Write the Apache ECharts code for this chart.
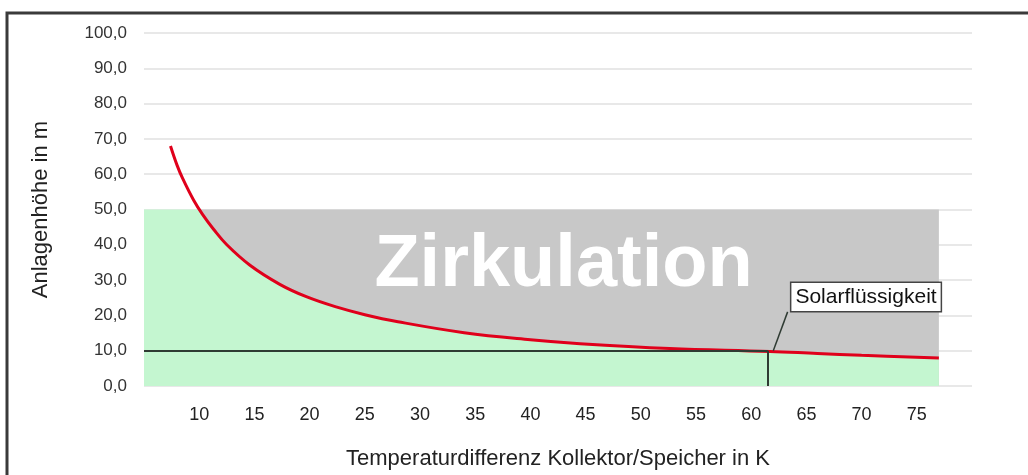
<!doctype html>
<html lang="de">
<head>
<meta charset="UTF-8">
<title>Zirkulation</title>
<script src="https://cdn.jsdelivr.net/npm/echarts@6/dist/echarts.min.js"></script>
<style>
    html, body { margin: 0; padding: 0; background: #fff; }
    #main { width: 1028px; height: 475px; }
</style>
</head>
<body>
<div id="main"></div>
<script>
// Werte
var curveX = [7.4, 8.0, 8.5, 9.5, 10.3, 11.3, 12.5, 14.6, 17.3, 19.7, 22.4, 25, 28, 34, 40, 44.5, 52.6, 61.7, 66, 70, 77];
var curveY = [68, 62.5, 58.8, 52.6, 48.6, 44.4, 40.0, 34.2, 28.8, 25.3, 22.4, 20.2, 18.2, 15.1, 13.1, 12.0, 10.65, 9.8, 9.2, 8.7, 7.9];
var xTickLabels = [10, 15, 20, 25, 30, 35, 40, 45, 50, 55, 60, 65, 70, 75];
var yTickLabels = ['0,0', '10,0', '20,0', '30,0', '40,0', '50,0', '60,0', '70,0', '80,0', '90,0', '100,0'];
var areaStartX = 5;
var areaEndX = 77;
var bandTop = 50;
var bandStartX = 10.0;
var fluidLevel = 10;
var fluidX = 61.5;
var boxPos = [70.4, 25.2];
var leaderEnd = [63.3, 21];
var zirkPos = [43, 34];

var font = "'Liberation Sans', Arial, sans-serif";

var myChart = echarts.init(document.getElementById('main'));

var curveData = curveX.map(function (x, i) { return [x, curveY[i]]; });

// grau: Rechteck von bandStartX bis areaEndX, 0..50 (wird unten von gruen ueberdeckt)
var greyData = [[bandStartX, bandTop], [areaEndX, bandTop]];

// gruen: unter der Kurve, oben auf 50 begrenzt
var greenData = [[areaStartX, bandTop], [bandStartX, bandTop]];
curveX.forEach(function (x, i) {
    if (x > bandStartX) greenData.push([x, curveY[i]]);
});

var option = {
    animation: false,
    graphic: [{
        type: 'rect',
        shape: { x: 7, y: 13, width: 1040, height: 480 },
        style: { fill: 'none', stroke: '#3a3a3a', lineWidth: 3 },
        z: 100
    }],
    grid: { left: 144, right: 56, top: 33, bottom: 87 },
    xAxis: {
        type: 'value',
        min: 5,
        max: 80,
        interval: 5,
        name: 'Temperaturdifferenz Kollektor/Speicher in K',
        nameLocation: 'middle',
        nameGap: 62,
        nameTextStyle: { fontFamily: font, fontSize: 22, color: '#222' },
        axisLine: { show: false },
        axisTick: { show: false },
        splitLine: { show: false },
        axisLabel: {
            margin: 20,
            fontFamily: font,
            fontSize: 18,
            color: '#222',
            formatter: function (v) { return xTickLabels.indexOf(v) >= 0 ? String(v) : ''; }
        }
    },
    yAxis: {
        type: 'value',
        min: 0,
        max: 100,
        interval: 10,
        name: 'Anlagenhöhe in m',
        nameLocation: 'middle',
        nameGap: 92,
        nameTextStyle: { fontFamily: font, fontSize: 22, color: '#222' },
        axisLine: { show: false },
        axisTick: { show: false },
        splitLine: { lineStyle: { color: '#e8e8e8', width: 2 } },
        axisLabel: {
            margin: 17,
            fontFamily: font,
            fontSize: 17,
            color: '#333',
            formatter: function (v) { return yTickLabels[Math.round(v / 10)]; }
        }
    },
    series: [
        {
            name: 'grau',
            type: 'line',
            data: greyData,
            symbol: 'none',
            lineStyle: { width: 0 },
            areaStyle: { color: '#c8c8c8', opacity: 1 },
            z: 1,
            markPoint: {
                symbolSize: 0,
                silent: true,
                label: {
                    show: true,
                    position: 'inside',
                    formatter: 'Zirkulation',
                    fontFamily: font,
                    fontSize: 74,
                    fontWeight: 'bold',
                    color: '#ffffff'
                },
                data: [{ coord: zirkPos }]
            }
        },
        {
            name: 'gruen',
            type: 'line',
            data: greenData,
            smooth: 0.4,
            symbol: 'none',
            lineStyle: { width: 0 },
            areaStyle: { color: '#c4f6d0', opacity: 1 },
            z: 2
        },
        {
            name: 'Kurve',
            type: 'line',
            data: curveData,
            smooth: 0.4,
            symbol: 'none',
            lineStyle: { color: '#e0001b', width: 3 },
            z: 4,
            markLine: {
                silent: true,
                symbol: 'none',
                label: { show: false },
                lineStyle: { color: '#2f3b33', width: 2, type: 'solid' },
                data: [
                    [{ coord: [5, fluidLevel] }, { coord: [fluidX, fluidLevel] }],
                    [{ coord: [fluidX, fluidLevel] }, { coord: [fluidX, 0] }],
                    [{ coord: [fluidX + 0.5, fluidLevel] }, { coord: leaderEnd, lineStyle: { width: 1.5 } }]
                ]
            },
            markPoint: {
                symbolSize: 0,
                silent: true,
                label: {
                    show: true,
                    position: 'inside',
                    formatter: 'Solarflüssigkeit',
                    fontFamily: font,
                    fontSize: 21,
                    color: '#111',
                    backgroundColor: '#fff',
                    borderColor: '#444',
                    borderWidth: 1.5,
                    padding: [4, 4, 3, 4]
                },
                data: [{ coord: boxPos }]
            }
        }
    ]
};
myChart.setOption(option);
</script>
</body>
</html>
